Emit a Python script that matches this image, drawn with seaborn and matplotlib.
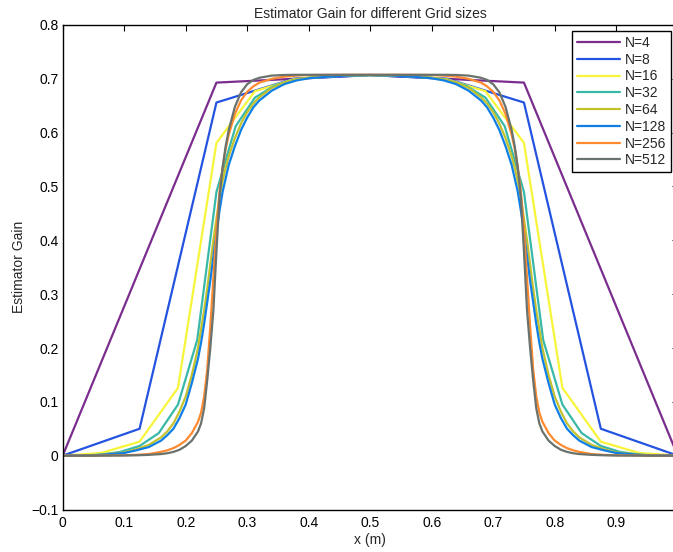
import numpy as np
import pandas as pd
import matplotlib
matplotlib.use("Agg")
import matplotlib.pyplot as plt
import seaborn as sns

# Half profiles (0 <= x <= 0.5); the gain is symmetric about x = 0.5
x_n4 = [0.0, 0.25, 0.5]
g_n4 = [0.0, 0.693, 0.707]

x_n8 = [0.0, 0.125, 0.25, 0.375, 0.5]
g_n8 = [0.0, 0.050, 0.656, 0.700, 0.707]

x_n16 = [0.0, 0.0625, 0.125, 0.1875, 0.25, 0.3125, 0.375, 0.4375, 0.5]
g_n16 = [0.0, 0.005, 0.026, 0.126, 0.581, 0.677, 0.699, 0.705, 0.707]

x_n32 = [0.0, 0.03125, 0.0625, 0.09375, 0.125, 0.15625, 0.1875, 0.21875, 0.25,
         0.28125, 0.3125, 0.34375, 0.375, 0.40625, 0.4375, 0.46875, 0.5]
g_n32 = [0.0, 0.0003, 0.002, 0.007, 0.018, 0.042, 0.095, 0.215, 0.490,
         0.612, 0.665, 0.687, 0.698, 0.703, 0.705, 0.706, 0.707]

# Sample positions for the finer grids
x_fine = [0.0, 0.05, 0.1, 0.12, 0.14, 0.16, 0.17, 0.18, 0.19, 0.2, 0.21, 0.22,
          0.225, 0.23, 0.235, 0.24, 0.245, 0.25, 0.255, 0.26, 0.265, 0.27, 0.28,
          0.29, 0.3, 0.31, 0.32, 0.34, 0.36, 0.38, 0.4, 0.43, 0.46, 0.5]
g_n64 = [0.0, 0.0006, 0.006, 0.012, 0.020, 0.034, 0.045, 0.060, 0.082, 0.110,
         0.150, 0.200, 0.235, 0.270, 0.310, 0.355, 0.400, 0.440, 0.480, 0.510,
         0.535, 0.556, 0.590, 0.617, 0.638, 0.654, 0.666, 0.683, 0.693, 0.699,
         0.702, 0.705, 0.706, 0.707]
g_n128 = [0.0, 0.0005, 0.005, 0.010, 0.016, 0.028, 0.038, 0.050, 0.070, 0.095,
          0.135, 0.180, 0.210, 0.245, 0.285, 0.325, 0.370, 0.415, 0.455, 0.490,
          0.515, 0.540, 0.575, 0.605, 0.628, 0.647, 0.660, 0.678, 0.690, 0.697,
          0.701, 0.704, 0.706, 0.707]
g_n256 = [0.0, 0.0001, 0.0008, 0.0015, 0.003, 0.007, 0.010, 0.014, 0.020, 0.028,
          0.042, 0.063, 0.080, 0.110, 0.160, 0.240, 0.330, 0.420, 0.490, 0.535,
          0.570, 0.596, 0.635, 0.660, 0.676, 0.686, 0.693, 0.700, 0.704, 0.706,
          0.707, 0.7073, 0.7075, 0.7075]
g_n512 = [0.0, 0.0, 0.0003, 0.0007, 0.0015, 0.003, 0.0045, 0.007, 0.011, 0.018,
          0.028, 0.045, 0.060, 0.088, 0.140, 0.200, 0.270, 0.380, 0.480, 0.535,
          0.575, 0.605, 0.648, 0.675, 0.690, 0.698, 0.702, 0.706, 0.7072, 0.7075,
          0.7075, 0.7075, 0.7075, 0.7075]

labels = ["N=4", "N=8", "N=16", "N=32", "N=64", "N=128", "N=256", "N=512"]
colors = ["#7B2D8E", "#2453E0", "#F7F53A", "#38B8A8", "#C4C22C", "#0F7FE6",
          "#FF8A30", "#69726C"]

halves = [(x_n4, g_n4), (x_n8, g_n8), (x_n16, g_n16), (x_n32, g_n32),
          (x_fine, g_n64), (x_fine, g_n128), (x_fine, g_n256), (x_fine, g_n512)]

frames = []
for lab, (xh, gh) in zip(labels, halves):
    xh = np.asarray(xh, float)
    gh = np.asarray(gh, float)
    xs = np.r_[xh, 1.0 - xh[-2::-1]]
    gs = np.r_[gh, gh[-2::-1]]
    frames.append(pd.DataFrame({"x": xs, "gain": gs, "N": lab}))
df = pd.concat(frames, ignore_index=True)

sns.set_style("white")
plt.rcParams["font.family"] = ["Liberation Sans", "DejaVu Sans"]
plt.rcParams["axes.unicode_minus"] = True

FS = 10

fig = plt.figure(figsize=(6.73, 5.52), dpi=100)
ax = fig.add_axes([62.7 / 673, 42.5 / 552, 615 / 673, 484.5 / 552])

sns.lineplot(data=df, x="x", y="gain", hue="N", hue_order=labels,
             palette=dict(zip(labels, colors)), estimator=None, sort=False,
             units="N", linewidth=1.6, ax=ax, legend=True)

ax.set_xlim(0, 1)
ax.set_ylim(-0.1, 0.8)
ax.set_xticks(np.round(np.arange(0, 1.0, 0.1), 1))
ax.set_xticklabels(["0", "0.1", "0.2", "0.3", "0.4", "0.5", "0.6", "0.7", "0.8", "0.9"])
ax.set_yticks(np.round(np.arange(-0.1, 0.81, 0.1), 1))
ax.set_yticklabels(["\u22120.1", "0", "0.1", "0.2", "0.3", "0.4", "0.5", "0.6", "0.7", "0.8"])
ax.tick_params(direction="in", length=4, width=0.8, top=True, right=True,
               labelsize=FS, colors="black")
ax.tick_params(axis="x", pad=5)
ax.tick_params(axis="y", pad=3)
for s in ax.spines.values():
    s.set_visible(True)
    s.set_color("black")
    s.set_linewidth(1.0)

ax.set_title("Estimator Gain for different Grid sizes", fontsize=FS, pad=5)
ax.set_xlabel("x (m)", fontsize=FS, labelpad=2)
ax.set_ylabel("Estimator Gain", fontsize=FS, labelpad=4)

handles, labs = ax.get_legend_handles_labels()
leg = ax.legend(handles, labs, loc="upper right",
                bbox_to_anchor=(670.7 / 673, 1 - 31 / 552),
                bbox_transform=fig.transFigure, fontsize=FS, frameon=True,
                fancybox=False, framealpha=1, edgecolor="black",
                handlelength=3.1, handletextpad=0.3, labelspacing=0.2,
                borderpad=0.35, borderaxespad=0)
leg.get_frame().set_linewidth(1.0)
for h in leg.get_lines():
    h.set_linewidth(1.6)

fig.savefig("out.png", dpi=100)
